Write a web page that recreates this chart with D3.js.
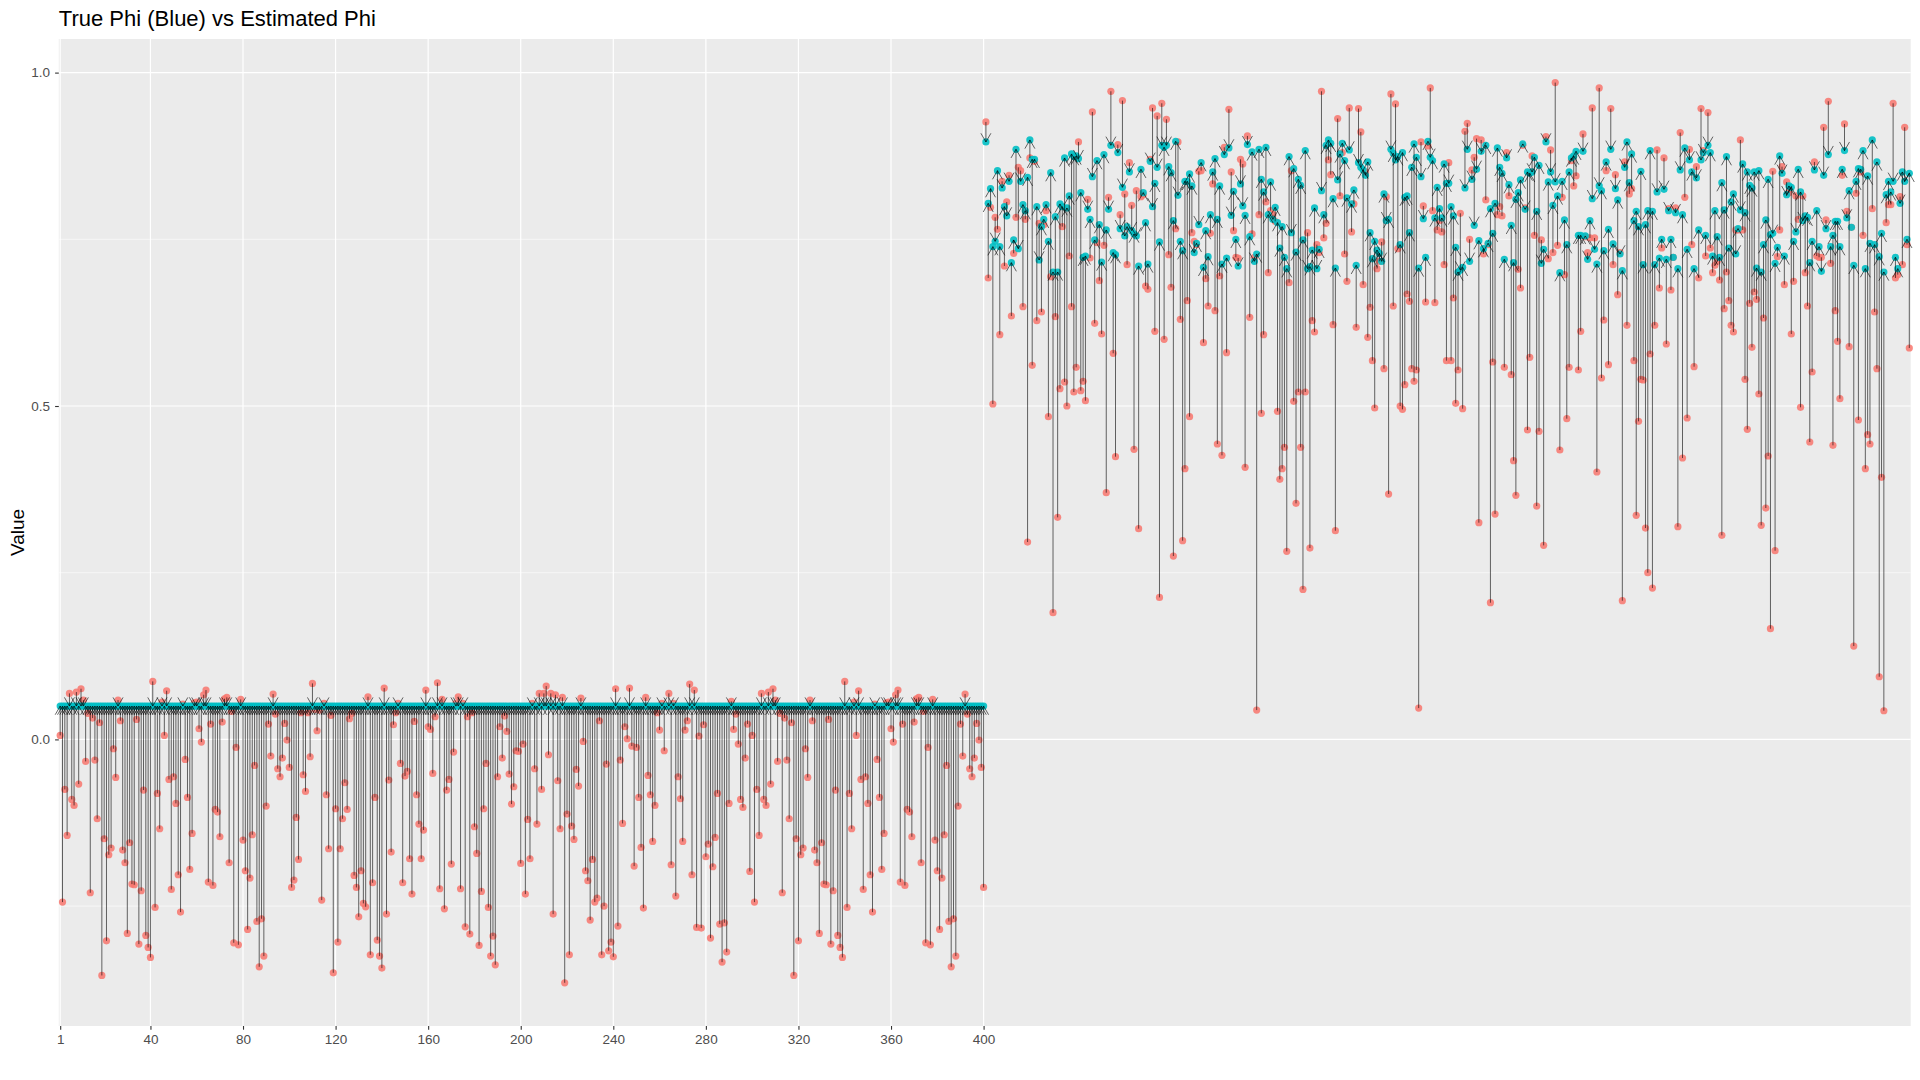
<!DOCTYPE html>
<html>
<head>
<meta charset="utf-8">
<script src="https://cdn.jsdelivr.net/npm/d3@7"></script>
<style>
  body { margin: 0; background: #fff; }
  text { font-family: "Liberation Sans", Arial, Helvetica, sans-serif; }
</style>
</head>
<body>
<div class="container"></div>
<script>
const WIDTH = 1920;
const HEIGHT = 1080;
const PANEL = {left: 58.8, right: 1910.7, top: 39, bottom: 1026};

// axis breaks
const xBreaks = [1, 40, 80, 120, 160, 200, 240, 280, 320, 360, 400];
const yBreaks = [0, 0.5, 1.0];
const yMinor = [-0.25, 0.25, 0.75];

// true phi, series 1-400
const trueLow = [
  0.05, 0.05, 0.05, 0.05, 0.05, 0.05, 0.05, 0.05, 0.05, 0.05, 0.05, 0.05, 0.05, 0.05, 0.05, 0.05, 0.05, 0.05, 0.05, 0.05,
  0.05, 0.05, 0.05, 0.05, 0.05, 0.05, 0.05, 0.05, 0.05, 0.05, 0.05, 0.05, 0.05, 0.05, 0.05, 0.05, 0.05, 0.05, 0.05, 0.05,
  0.05, 0.05, 0.05, 0.05, 0.05, 0.05, 0.05, 0.05, 0.05, 0.05, 0.05, 0.05, 0.05, 0.05, 0.05, 0.05, 0.05, 0.05, 0.05, 0.05,
  0.05, 0.05, 0.05, 0.05, 0.05, 0.05, 0.05, 0.05, 0.05, 0.05, 0.05, 0.05, 0.05, 0.05, 0.05, 0.05, 0.05, 0.05, 0.05, 0.05,
  0.05, 0.05, 0.05, 0.05, 0.05, 0.05, 0.05, 0.05, 0.05, 0.05, 0.05, 0.05, 0.05, 0.05, 0.05, 0.05, 0.05, 0.05, 0.05, 0.05,
  0.05, 0.05, 0.05, 0.05, 0.05, 0.05, 0.05, 0.05, 0.05, 0.05, 0.05, 0.05, 0.05, 0.05, 0.05, 0.05, 0.05, 0.05, 0.05, 0.05,
  0.05, 0.05, 0.05, 0.05, 0.05, 0.05, 0.05, 0.05, 0.05, 0.05, 0.05, 0.05, 0.05, 0.05, 0.05, 0.05, 0.05, 0.05, 0.05, 0.05,
  0.05, 0.05, 0.05, 0.05, 0.05, 0.05, 0.05, 0.05, 0.05, 0.05, 0.05, 0.05, 0.05, 0.05, 0.05, 0.05, 0.05, 0.05, 0.05, 0.05,
  0.05, 0.05, 0.05, 0.05, 0.05, 0.05, 0.05, 0.05, 0.05, 0.05, 0.05, 0.05, 0.05, 0.05, 0.05, 0.05, 0.05, 0.05, 0.05, 0.05,
  0.05, 0.05, 0.05, 0.05, 0.05, 0.05, 0.05, 0.05, 0.05, 0.05, 0.05, 0.05, 0.05, 0.05, 0.05, 0.05, 0.05, 0.05, 0.05, 0.05,
  0.05, 0.05, 0.05, 0.05, 0.05, 0.05, 0.05, 0.05, 0.05, 0.05, 0.05, 0.05, 0.05, 0.05, 0.05, 0.05, 0.05, 0.05, 0.05, 0.05,
  0.05, 0.05, 0.05, 0.05, 0.05, 0.05, 0.05, 0.05, 0.05, 0.05, 0.05, 0.05, 0.05, 0.05, 0.05, 0.05, 0.05, 0.05, 0.05, 0.05,
  0.05, 0.05, 0.05, 0.05, 0.05, 0.05, 0.05, 0.05, 0.05, 0.05, 0.05, 0.05, 0.05, 0.05, 0.05, 0.05, 0.05, 0.05, 0.05, 0.05,
  0.05, 0.05, 0.05, 0.05, 0.05, 0.05, 0.05, 0.05, 0.05, 0.05, 0.05, 0.05, 0.05, 0.05, 0.05, 0.05, 0.05, 0.05, 0.05, 0.05,
  0.05, 0.05, 0.05, 0.05, 0.05, 0.05, 0.05, 0.05, 0.05, 0.05, 0.05, 0.05, 0.05, 0.05, 0.05, 0.05, 0.05, 0.05, 0.05, 0.05,
  0.05, 0.05, 0.05, 0.05, 0.05, 0.05, 0.05, 0.05, 0.05, 0.05, 0.05, 0.05, 0.05, 0.05, 0.05, 0.05, 0.05, 0.05, 0.05, 0.05,
  0.05, 0.05, 0.05, 0.05, 0.05, 0.05, 0.05, 0.05, 0.05, 0.05, 0.05, 0.05, 0.05, 0.05, 0.05, 0.05, 0.05, 0.05, 0.05, 0.05,
  0.05, 0.05, 0.05, 0.05, 0.05, 0.05, 0.05, 0.05, 0.05, 0.05, 0.05, 0.05, 0.05, 0.05, 0.05, 0.05, 0.05, 0.05, 0.05, 0.05,
  0.05, 0.05, 0.05, 0.05, 0.05, 0.05, 0.05, 0.05, 0.05, 0.05, 0.05, 0.05, 0.05, 0.05, 0.05, 0.05, 0.05, 0.05, 0.05, 0.05,
  0.05, 0.05, 0.05, 0.05, 0.05, 0.05, 0.05, 0.05, 0.05, 0.05, 0.05, 0.05, 0.05, 0.05, 0.05, 0.05, 0.05, 0.05, 0.05, 0.05
];

// estimated phi, series 1-400
const estA = [
  0.006, -0.244, -0.075, -0.144, 0.069, -0.09, -0.099, 0.071, -0.067, 0.076,
  0.059, -0.033, 0.039, -0.23, 0.032, -0.031, -0.119, 0.025, -0.354, -0.149,
  -0.302, -0.173, -0.163, -0.014, -0.057, 0.059, 0.028, -0.166, -0.185, -0.291,
  -0.155, -0.217, -0.218, 0.03, -0.307, -0.227, -0.076, -0.294, -0.312, -0.327,
  0.087, -0.252, -0.081, -0.134, 0.056, 0.006, 0.073, -0.06, -0.225, -0.056,
  -0.096, -0.203, -0.259, 0.053, -0.03, -0.087, -0.195, -0.141, 0.055, 0.056,
  0.016, -0.004, 0.067, 0.074, -0.214, 0.023, -0.219, -0.105, -0.109, -0.146,
  0.026, 0.061, 0.063, -0.185, 0.042, -0.305, -0.012, -0.308, 0.06, -0.151,
  -0.197, -0.285, -0.208, -0.143, -0.039, -0.273, -0.341, -0.269, -0.325, -0.1,
  0.023, -0.025, 0.068, 0.038, -0.044, -0.056, -0.028, 0.024, -0.001, -0.042,
  -0.222
];
const estB = [
  -0.211, -0.117, -0.18, 0.04, -0.053, -0.078, 0.04, -0.026, 0.084, 0.045,
  0.013, 0.044, -0.241, 0.054, -0.083, -0.164, 0.036, -0.35, -0.104, -0.304,
  -0.164, -0.119, -0.065, -0.105, 0.031, 0.039, -0.204, -0.222, -0.266, -0.197,
  -0.246, -0.251, 0.064, -0.323, -0.215, -0.087, -0.301, -0.325, -0.343, 0.077,
  -0.262, -0.061, -0.169, 0.022, 0.04, 0.054, -0.036, -0.215, -0.055, -0.048,
  -0.179, -0.232, 0.027, -0.083, -0.127, -0.179, -0.136, 0.074, 0.019, 0.015,
  -0.051, 0.034, 0.085, -0.224, 0.06, -0.254, -0.076, -0.06, -0.187, -0.019,
  0.054, 0.064, -0.224, 0.054, -0.281, 0.034, -0.292, 0.04, -0.131, -0.171,
  -0.309, -0.228, -0.104, -0.036, -0.252, -0.325, -0.295, -0.338, -0.056, 0.019,
  -0.028, 0.035, 0.012, -0.052, -0.097, -0.071, -0.017
];
const estC = [
  -0.018, -0.186, -0.007, -0.232, -0.12, -0.179, 0.054, -0.044, -0.127, 0.069,
  -0.075, 0.069, 0.08, -0.023, 0.069, -0.262, 0.067, -0.062, -0.134, 0.063,
  -0.365, -0.112, -0.323, -0.13, -0.15, -0.045, -0.07, 0.062, -0.003, -0.197,
  -0.212, -0.271, -0.18, -0.244, -0.238, 0.028, -0.323, -0.25, -0.037, -0.317,
  -0.304, -0.326, 0.076, -0.28, -0.031, -0.126, 0.019, 0.001, 0.077, -0.01,
  -0.19, -0.012, -0.087, -0.162, -0.253, 0.063, -0.054, -0.083, -0.153, -0.099,
  0.04, 0.014, 0.054, -0.017, 0.049, 0.069, -0.188, 0.054, -0.235, -0.056,
  -0.089, -0.153, 0.014, 0.028, 0.083, -0.203, 0.074, -0.282, 0.005, -0.283,
  0.022, -0.176, -0.157, -0.298, -0.191, -0.147, -0.081, -0.277, -0.334, -0.275,
  -0.319, -0.096, 0.057, 0.015, 0.038, -0.007, -0.09, -0.102, -0.028, 0.023,
  -0.198
];
const estD = [
  0.006, -0.244, -0.075, -0.144, 0.069, -0.09, -0.099, 0.071, -0.067, 0.076,
  0.059, -0.033, 0.039, -0.23, 0.032, -0.031, -0.119, 0.025, -0.354, -0.149,
  -0.302, -0.173, -0.163, -0.014, -0.057, 0.059, 0.028, -0.166, -0.185, -0.291,
  -0.155, -0.217, -0.218, 0.03, -0.307, -0.227, -0.076, -0.294, -0.312, -0.327,
  0.087, -0.252, -0.081, -0.134, 0.056, 0.006, 0.073, -0.06, -0.225, -0.056,
  -0.096, -0.203, -0.259, 0.053, -0.03, -0.087, -0.195, -0.141, 0.055, 0.056,
  0.016, -0.004, 0.067, 0.074, -0.214, 0.023, -0.219, -0.105, -0.109, -0.146,
  0.026, 0.061, 0.063, -0.185, 0.042, -0.305, -0.012, -0.308, 0.06, -0.151,
  -0.197, -0.285, -0.208, -0.143, -0.039, -0.273, -0.341, -0.269, -0.325, -0.1,
  0.023, -0.025, 0.068, 0.038, -0.044, -0.056, -0.028, 0.024, -0.001, -0.042,
  -0.222
];

// series 401-800: true and estimated phi
const trueR1 = [
  0.896, 0.804, 0.826, 0.739, 0.747, 0.853, 0.739, 0.827, 0.799, 0.785,
  0.837, 0.715, 0.749, 0.885, 0.736, 0.837, 0.802, 0.793, 0.843, 0.899,
  0.870, 0.870, 0.799, 0.719, 0.769, 0.780, 0.802, 0.747, 0.850, 0.701,
  0.784, 0.701, 0.803, 0.799, 0.872, 0.797, 0.815, 0.878, 0.874, 0.875,
  0.871, 0.820, 0.723, 0.725, 0.795, 0.780, 0.844, 0.749, 0.868, 0.772,
  0.716, 0.877, 0.764, 0.795, 0.891, 0.730, 0.727, 0.880, 0.766, 0.828,
  0.755, 0.769, 0.851, 0.763, 0.758, 0.755, 0.710, 0.855, 0.820, 0.775,
  0.713, 0.867, 0.799, 0.834, 0.858, 0.746, 0.891, 0.888, 0.891, 0.859,
  0.850, 0.778, 0.897, 0.816, 0.747, 0.733, 0.837, 0.837, 0.848, 0.830,
  0.730, 0.744, 0.772, 0.865, 0.708, 0.763, 0.724, 0.787, 0.851, 0.871,
  0.780
];
const estR1 = [
  0.926, 0.692, 0.798, 0.503, 0.783, 0.765, 0.607, 0.837, 0.710, 0.806,
  0.846, 0.635, 0.729, 0.783, 0.858, 0.853, 0.649, 0.780, 0.296, 0.872,
  0.561, 0.867, 0.628, 0.774, 0.641, 0.772, 0.793, 0.484, 0.694, 0.190,
  0.634, 0.333, 0.526, 0.769, 0.536, 0.500, 0.725, 0.649, 0.521, 0.558,
  0.896, 0.523, 0.537, 0.508, 0.810, 0.722, 0.941, 0.624, 0.745, 0.688,
  0.608, 0.741, 0.370, 0.813, 0.972, 0.579, 0.424, 0.892, 0.787, 0.958,
  0.818, 0.712, 0.865, 0.801, 0.435, 0.823, 0.316, 0.814, 0.817, 0.680,
  0.675, 0.870, 0.947, 0.612, 0.935, 0.213, 0.954, 0.600, 0.930, 0.727,
  0.678, 0.275, 0.766, 0.896, 0.630, 0.298, 0.406, 0.658, 0.484, 0.760,
  0.747, 0.742, 0.852, 0.853, 0.595, 0.691, 0.650, 0.759, 0.833, 0.643,
  0.443
];
const trueR2 = [
  0.830, 0.713, 0.877, 0.722, 0.887, 0.786, 0.822, 0.750, 0.710, 0.833,
  0.800, 0.786, 0.892, 0.754, 0.881, 0.717, 0.728, 0.885, 0.840, 0.821,
  0.888, 0.787, 0.836, 0.780, 0.798, 0.775, 0.737, 0.769, 0.723, 0.706,
  0.874, 0.760, 0.856, 0.731, 0.840, 0.831, 0.749, 0.883, 0.706, 0.709,
  0.734, 0.797, 0.706, 0.735, 0.823, 0.787, 0.891, 0.899, 0.894, 0.811,
  0.707, 0.839, 0.878, 0.894, 0.868, 0.812, 0.884, 0.803, 0.824, 0.711,
  0.865, 0.858, 0.854, 0.846, 0.866, 0.760, 0.721, 0.747, 0.734, 0.729,
  0.717, 0.818, 0.778, 0.780, 0.885, 0.879, 0.869, 0.874, 0.742, 0.880,
  0.813, 0.815, 0.760, 0.858, 0.893, 0.873, 0.707, 0.844, 0.781, 0.723,
  0.897, 0.873, 0.868, 0.782, 0.828, 0.796, 0.782, 0.863, 0.834
];
const estR2 = [
  0.695, 0.426, 0.888, 0.580, 0.945, 0.851, 0.763, 0.723, 0.722, 0.870,
  0.863, 0.408, 0.905, 0.633, 0.758, 0.723, 0.044, 0.787, 0.489, 0.607,
  0.806, 0.700, 0.793, 0.787, 0.777, 0.492, 0.390, 0.406, 0.438, 0.282,
  0.685, 0.853, 0.507, 0.354, 0.521, 0.438, 0.225, 0.521, 0.760, 0.287,
  0.628, 0.611, 0.742, 0.730, 0.972, 0.752, 0.774, 0.869, 0.847, 0.622,
  0.313, 0.931, 0.815, 0.880, 0.728, 0.687, 0.947, 0.761, 0.803, 0.618,
  0.946, 0.911, 0.682, 0.851, 0.603, 0.648, 0.568, 0.497, 0.706, 0.717,
  0.746, 0.556, 0.814, 0.368, 0.968, 0.650, 0.953, 0.736, 0.500, 0.495,
  0.532, 0.668, 0.657, 0.556, 0.537, 0.554, 0.047, 0.896, 0.800, 0.656,
  0.890, 0.977, 0.793, 0.655, 0.764, 0.778, 0.761, 0.712, 0.568
];
const trueR3 = [0.834, 0.799];
const estR3 = [0.865, 0.568];
const trueR4 = [
  0.785, 0.738, 0.701, 0.704, 0.708, 0.827, 0.885, 0.717, 0.840, 0.771,
  0.855, 0.748, 0.882, 0.736, 0.891, 0.744, 0.796, 0.759, 0.804, 0.887,
  0.858, 0.849, 0.720, 0.872, 0.832, 0.771, 0.715, 0.810, 0.820, 0.839,
  0.893, 0.795, 0.851, 0.849, 0.851, 0.873, 0.792, 0.861, 0.714, 0.735,
  0.896, 0.836, 0.851, 0.801, 0.836, 0.815, 0.700, 0.837, 0.779, 0.742,
  0.851, 0.872, 0.875, 0.882, 0.756, 0.756, 0.882, 0.755, 0.720, 0.778,
  0.811, 0.735, 0.713, 0.830, 0.823, 0.733, 0.866, 0.765, 0.885, 0.743,
  0.826, 0.809, 0.728, 0.703, 0.858, 0.896, 0.835, 0.878, 0.778, 0.792,
  0.769, 0.852, 0.712, 0.772, 0.793, 0.883, 0.792, 0.712, 0.821, 0.722,
  0.750, 0.825, 0.720, 0.793, 0.750, 0.723, 0.790, 0.706
];
const estR4 = [
  0.662, 0.504, 0.554, 0.789, 0.496, 0.912, 0.924, 0.750, 0.854, 0.873,
  0.901, 0.325, 0.899, 0.728, 0.809, 0.742, 0.205, 0.566, 0.338, 0.787,
  0.799, 0.785, 0.558, 0.880, 0.815, 0.547, 0.418, 0.366, 0.705, 0.677,
  0.891, 0.797, 0.464, 0.573, 0.875, 0.756, 0.350, 0.462, 0.749, 0.291,
  0.904, 0.721, 0.884, 0.730, 0.985, 0.741, 0.434, 0.813, 0.697, 0.481,
  0.558, 0.868, 0.830, 0.845, 0.554, 0.612, 0.908, 0.754, 0.730, 0.752,
  0.947, 0.752, 0.401, 0.977, 0.542, 0.629, 0.853, 0.562, 0.946, 0.712,
  0.847, 0.667, 0.730, 0.208, 0.866, 0.621, 0.818, 0.826, 0.568, 0.336,
  0.477, 0.540, 0.539, 0.317, 0.250, 0.578, 0.227, 0.621, 0.884, 0.677,
  0.737, 0.872, 0.593, 0.796, 0.674, 0.723, 0.797, 0.319
];
const trueR5 = [
  0.854, 0.787, 0.887, 0.735, 0.869, 0.851, 0.706, 0.842, 0.764, 0.869,
  0.880, 0.756, 0.891, 0.880, 0.725, 0.793, 0.754, 0.723, 0.835, 0.794,
  0.874, 0.737, 0.806, 0.818, 0.728, 0.766, 0.794, 0.863, 0.790, 0.851,
  0.831, 0.827, 0.851, 0.707, 0.853, 0.701, 0.742, 0.779, 0.840, 0.757,
  0.759, 0.714, 0.738, 0.875, 0.849, 0.725, 0.817, 0.830, 0.828, 0.747,
  0.761, 0.855, 0.821, 0.778, 0.785, 0.783, 0.715, 0.747, 0.854, 0.793,
  0.739, 0.702, 0.846, 0.766, 0.877, 0.739, 0.756, 0.777, 0.777, 0.739,
  0.855, 0.883, 0.782, 0.823, 0.768, 0.711, 0.837, 0.856, 0.855, 0.883,
  0.706, 0.845, 0.744, 0.899, 0.742, 0.866, 0.724, 0.759, 0.701, 0.817,
  0.837, 0.821, 0.837, 0.723, 0.706, 0.804, 0.851, 0.837, 0.750, 0.849
];
const estR5 = [
  0.910, 0.422, 0.813, 0.482, 0.885, 0.742, 0.559, 0.859, 0.692, 0.946,
  0.883, 0.725, 0.940, 0.737, 0.700, 0.711, 0.717, 0.689, 0.306, 0.646,
  0.701, 0.658, 0.621, 0.611, 0.764, 0.764, 0.899, 0.764, 0.540, 0.465,
  0.654, 0.588, 0.671, 0.660, 0.518, 0.321, 0.632, 0.347, 0.425, 0.166,
  0.852, 0.283, 0.724, 0.764, 0.859, 0.682, 0.836, 0.820, 0.608, 0.687,
  0.815, 0.780, 0.498, 0.815, 0.700, 0.650, 0.446, 0.551, 0.866, 0.725,
  0.723, 0.723, 0.918, 0.779, 0.957, 0.714, 0.441, 0.643, 0.597, 0.511,
  0.846, 0.923, 0.792, 0.589, 0.768, 0.140, 0.819, 0.479, 0.851, 0.756,
  0.406, 0.457, 0.443, 0.796, 0.641, 0.556, 0.094, 0.393, 0.043, 0.775,
  0.802, 0.802, 0.954, 0.692, 0.697, 0.814, 0.712, 0.918, 0.742, 0.587
];

var translate = function(x, y) {
    return `translate(${x},${y})`;
};

var buildRows = function() {
    let truth = trueLow.concat(trueR1, trueR2, trueR3, trueR4, trueR5);
    let est = estA.concat(estB, estC, estD, estR1, estR2, estR3, estR4, estR5);
    return est.map((e, i) => ({idx: i + 1, est: e, tru: truth[i]}));
};

// segment from estimate to truth, open arrow head at the truth end
var arrowPath = function(d, xScale, yScale) {
    let x = xScale(d.idx), y0 = yScale(d.est), y1 = yScale(d.tru);
    let p = `M${x},${y0}L${x},${y1}`;
    if (Math.abs(y1 - y0) < 0.5) return p;
    let dir = y1 < y0 ? 1 : -1;      // arms trail back towards the estimate
    let len = 10, ang = Math.PI / 6;
    let dx = len * Math.sin(ang), dy = len * Math.cos(ang) * dir;
    return p + `M${x - dx},${y1 + dy}L${x},${y1}L${x + dx},${y1 + dy}`;
};

var fillLayout = function() {
    let rows = buildRows();

    var svg = d3.select('.container').append('svg')
        .attr('width', WIDTH)
        .attr('height', HEIGHT);

    let xScale = d3.scaleLinear()
        .domain([0.4, 800.6])
        .range([PANEL.left, PANEL.right]);

    let yScale = d3.scaleLinear()
        .domain([-0.4298, 1.0504])
        .range([PANEL.bottom, PANEL.top]);

    svg.append('rect')
        .attr('x', PANEL.left).attr('y', PANEL.top)
        .attr('width', PANEL.right - PANEL.left)
        .attr('height', PANEL.bottom - PANEL.top)
        .attr('fill', '#EBEBEB');

    var grid = svg.append('g');
    grid.selectAll('.minor').data(yMinor).enter()
        .append('line')
        .attr('x1', PANEL.left).attr('x2', PANEL.right)
        .attr('y1', d => yScale(d)).attr('y2', d => yScale(d))
        .attr('stroke', '#fff').attr('stroke-width', 0.6);
    grid.selectAll('.ymajor').data(yBreaks).enter()
        .append('line')
        .attr('x1', PANEL.left).attr('x2', PANEL.right)
        .attr('y1', d => yScale(d)).attr('y2', d => yScale(d))
        .attr('stroke', '#fff').attr('stroke-width', 1.2);
    grid.selectAll('.xmajor').data(xBreaks).enter()
        .append('line')
        .attr('y1', PANEL.top).attr('y2', PANEL.bottom)
        .attr('x1', d => xScale(d)).attr('x2', d => xScale(d))
        .attr('stroke', '#fff').attr('stroke-width', 1.2);

    var g = svg.append('g');

    g.selectAll('circle.est').data(rows).enter()
        .append('circle')
        .attr('cx', d => xScale(d.idx))
        .attr('cy', d => yScale(d.est))
        .attr('r', 3.6)
        .attr('fill', '#F8766D')
        .attr('fill-opacity', 0.85);

    g.selectAll('circle.tru').data(rows).enter()
        .append('circle')
        .attr('cx', d => xScale(d.idx))
        .attr('cy', d => yScale(d.tru))
        .attr('r', 3.6)
        .attr('fill', '#00BFC4')
        .attr('fill-opacity', 0.9);

    g.selectAll('path.seg').data(rows).enter()
        .append('path')
        .attr('d', d => arrowPath(d, xScale, yScale))
        .attr('fill', 'none')
        .attr('stroke', '#000')
        .attr('stroke-opacity', 0.75)
        .attr('stroke-width', 0.8);

    let xAxis = d3.axisBottom(xScale).tickValues(xBreaks)
        .tickSize(3.7).tickPadding(5).tickFormat(d => d);
    let yAxis = d3.axisLeft(yScale).tickValues(yBreaks)
        .tickSize(3.7).tickPadding(5).tickFormat(d3.format('.1f'));

    svg.append('g')
        .attr('transform', translate(0, PANEL.bottom))
        .call(xAxis)
        .call(a => a.select('.domain').remove());

    svg.append('g')
        .attr('transform', translate(PANEL.left, 0))
        .call(yAxis)
        .call(a => a.select('.domain').remove());

    svg.selectAll('.tick line').attr('stroke', '#333333').attr('stroke-width', 1.1);
    svg.selectAll('.tick text')
        .attr('fill', '#4D4D4D')
        .style('font-size', '13.5px')
        .style('font-family', '"Liberation Sans", Arial, sans-serif');

    svg.append('text')
        .attr('x', PANEL.left)
        .attr('y', 26)
        .attr('font-size', 22)
        .attr('fill', '#000')
        .text('True Phi (Blue) vs Estimated Phi');

    svg.append('text')
        .attr('transform', translate(24, (PANEL.top + PANEL.bottom) / 2) + ' rotate(-90)')
        .attr('text-anchor', 'middle')
        .attr('font-size', 19)
        .attr('fill', '#000')
        .text('Value');
};
window.onload = fillLayout;
</script>
</body>
</html>
